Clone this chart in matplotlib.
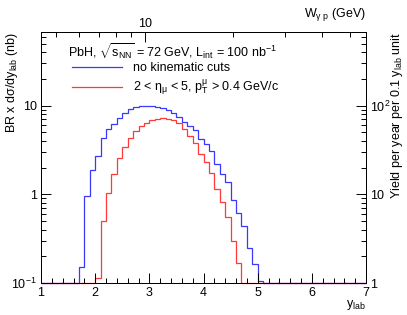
import numpy as np
import matplotlib.pyplot as plt
from matplotlib.lines import Line2D
from matplotlib.ticker import FixedLocator, FixedFormatter, NullFormatter, MultipleLocator, LogLocator

plt.rcParams['font.family'] = 'Liberation Sans'
plt.rcParams['mathtext.fontset'] = 'custom'
plt.rcParams['mathtext.rm'] = 'Liberation Sans'
plt.rcParams['mathtext.it'] = 'Liberation Sans:italic'
plt.rcParams['mathtext.bf'] = 'Liberation Sans:bold'
plt.rcParams['mathtext.default'] = 'regular'
plt.rcParams['font.size'] = 9

# histogram bins in y_lab, width 0.1 from 1 to 7
edges = np.round(np.linspace(1, 7, 61), 2)

# no kinematic cuts (first non-empty bin starts at 1.7)
blue_start = 1.7
blue_vals = [0.153, 0.96, 1.88, 2.7, 4.35, 5.45, 6.3, 7.35, 8.35, 9.1,
             9.7, 10.0, 10.05, 10.0, 9.75, 9.4, 8.85, 8.26, 7.5, 6.6,
             5.85, 5.3, 4.25, 3.7, 3.05, 2.2, 1.72, 1.38, 0.87, 0.62,
             0.44, 0.25, 0.163, 0.104]

# 2 < eta < 5, pT > 0.4 (first non-empty bin starts at 2.0)
red_start = 2.0
red_vals = [0.115, 0.506, 1.05, 1.71, 2.56, 3.47, 4.31, 5.22, 5.84, 6.45,
            6.85, 7.1, 7.25, 7.15, 6.9, 6.4, 5.4, 4.6, 3.8, 2.85,
            2.3, 1.76, 1.15, 0.81, 0.55, 0.295, 0.17]

ymin, ymax = 0.1, 68
blue = '#3838ff'
red = '#ff3838'


def full_hist(start, vals):
    h = np.zeros(len(edges) - 1)
    i0 = int(round((start - edges[0]) / 0.1))
    h[i0:i0 + len(vals)] = vals
    # empty bins drawn at the frame minimum like ROOT
    return np.clip(h, ymin, None)


fig = plt.figure(figsize=(4.07, 3.15), dpi=100)
ax = fig.add_axes([41 / 407, 32 / 315, 325 / 407, 251 / 315])

ax.stairs(full_hist(blue_start, blue_vals), edges, baseline=None,
          color=blue, lw=0.9, clip_on=False)
ax.stairs(full_hist(red_start, red_vals), edges, baseline=None,
          color=red, lw=0.9, clip_on=False)

ax.set_xlim(1, 7)
ax.set_yscale('log')
ax.set_ylim(ymin, ymax)
ax.xaxis.set_major_locator(MultipleLocator(1))
ax.xaxis.set_minor_locator(MultipleLocator(0.2))
ax.yaxis.set_major_locator(FixedLocator([0.1, 1, 10]))
ax.yaxis.set_major_formatter(FixedFormatter(['$10^{-1}$', '1', '10']))
ax.yaxis.set_minor_locator(LogLocator(subs=np.arange(2, 10)))
ax.yaxis.set_minor_formatter(NullFormatter())
ax.tick_params(which='both', direction='in', top=False, right=False)
ax.tick_params(which='major', length=7, width=0.7)
ax.tick_params(which='minor', length=3.5, width=0.7)
ax.tick_params(axis='x', pad=3)
ax.tick_params(axis='y', pad=3)

ax.set_xlabel(r'y$_{lab}$', loc='right')
ax.xaxis.set_label_coords(1.0, -0.058)
ax.set_ylabel(r'BR x d$\sigma$/dy$_{lab}$ (nb)', loc='top')
ax.yaxis.set_label_coords(-0.065, 1.0)

# right axis: yield per year
axr = ax.twinx()
axr.set_yscale('log')
axr.set_ylim(ymin * 10, ymax * 10)
axr.yaxis.set_major_locator(FixedLocator([1, 10, 100]))
axr.yaxis.set_major_formatter(FixedFormatter(['1', '10', '$10^{2}$']))
axr.yaxis.set_minor_locator(LogLocator(subs=np.arange(2, 10)))
axr.yaxis.set_minor_formatter(NullFormatter())
axr.tick_params(which='both', direction='in', width=0.7, pad=3)
axr.tick_params(which='major', length=7)
axr.tick_params(which='minor', length=3.5)
axr.set_ylabel(r'Yield per year per 0.1 y$_{lab}$ unit', loc='top')
axr.yaxis.set_label_coords(1.072, 1.0)

# top axis: W_gamma p
axt = ax.twiny()
axt.set_xscale('log')
axt.set_xlim(4.44, 56.6)
axt.xaxis.set_major_locator(FixedLocator([10]))
axt.xaxis.set_major_formatter(FixedFormatter(['10']))
axt.xaxis.set_minor_locator(LogLocator(subs=np.arange(2, 10)))
axt.xaxis.set_minor_formatter(NullFormatter())
axt.tick_params(which='both', direction='in', width=0.7, pad=1.5)
axt.tick_params(which='major', length=7)
axt.tick_params(which='minor', length=3.5)
axt.set_xlabel(r'W$_{\gamma\ p}$ (GeV)', loc='right')
axt.xaxis.set_label_coords(1.0, 1.06)

for a in (ax, axr, axt):
    for s in a.spines.values():
        s.set_linewidth(0.7)

fig.text(68 / 407, 1 - 52 / 315,
         r'PbH, $\sqrt{s_{NN}}$ = 72 GeV, L$_{int}$ = 100 nb$^{-1}$',
         va='center', ha='left')

handles = [Line2D([], [], color=blue, lw=0.9),
           Line2D([], [], color=red, lw=0.9)]
labels = ['no kinematic cuts',
          r'2 < $\eta_{\mu}$ < 5, p$_{T}^{\mu}$ > 0.4 GeV/c']
fig.legend(handles, labels, loc='upper left',
           bbox_to_anchor=(72 / 407, 1 - 62 / 315), frameon=False,
           borderpad=0, borderaxespad=0, handlelength=4.0,
           handletextpad=0.9, labelspacing=0.3)

fig.savefig('out.png', dpi=100)
